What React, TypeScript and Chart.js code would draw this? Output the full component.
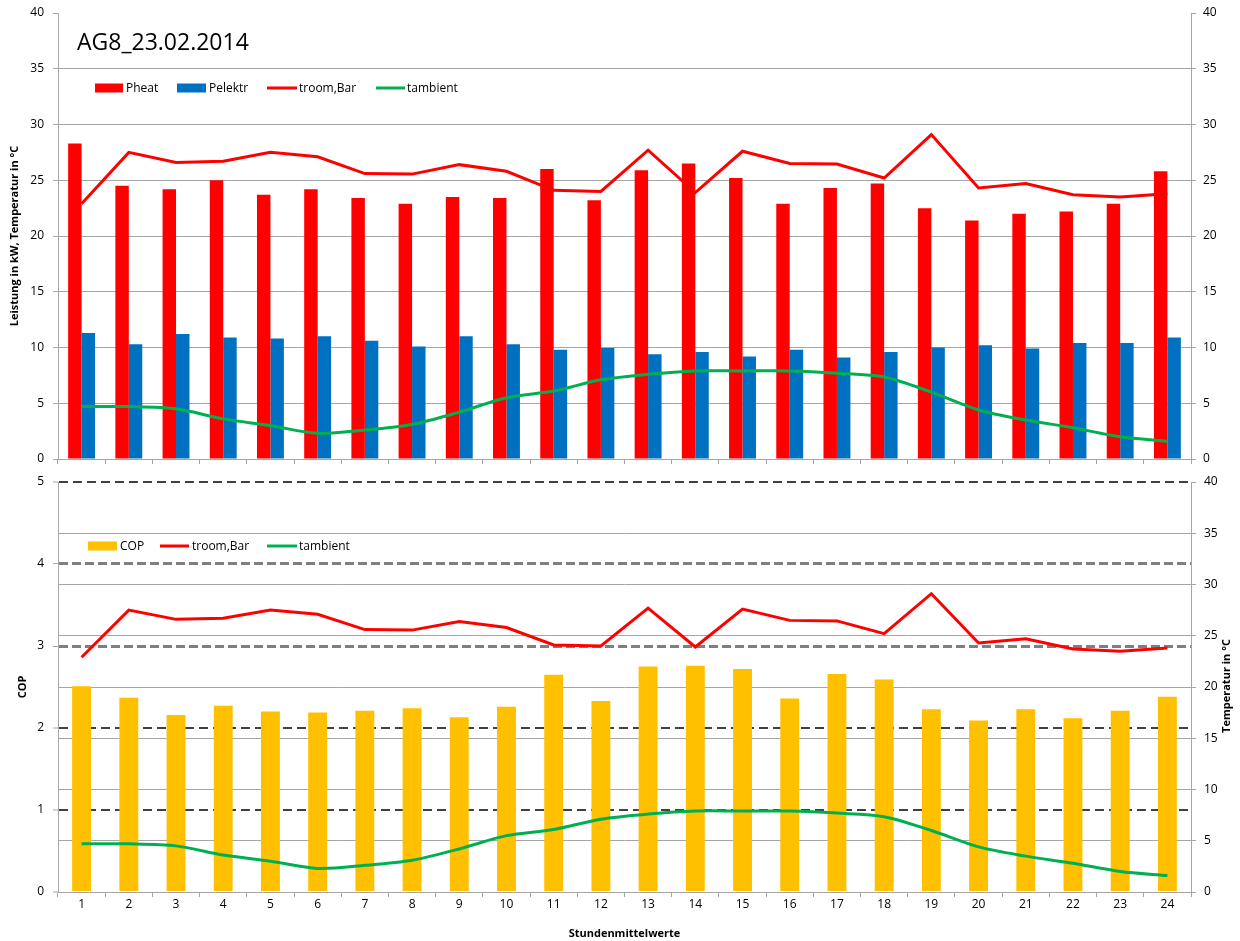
import React, { useEffect, useRef } from "react";
import { Chart, registerables } from "chart.js";

Chart.register(...registerables);

// ---------- data ----------
const hours = ["1","2","3","4","5","6","7","8","9","10","11","12","13","14","15","16","17","18","19","20","21","22","23","24"];
const pHeat = [28.3,24.5,24.2,25.0,23.7,24.2,23.4,22.9,23.5,23.4,26.0,23.2,25.9,26.5,25.2,22.9,24.3,24.7,22.5,21.4,22.0,22.2,22.9,25.8];
const pElektr = [11.3,10.3,11.2,10.9,10.8,11.0,10.6,10.1,11.0,10.3,9.8,9.95,9.4,9.6,9.2,9.8,9.1,9.6,10.0,10.2,9.9,10.4,10.4,10.9];
const tRoom = [22.9,27.5,26.6,26.7,27.5,27.1,25.6,25.55,26.4,25.8,24.1,24.0,27.7,23.9,27.6,26.5,26.45,25.2,29.1,24.3,24.7,23.7,23.5,23.8];
const tAmbient = [4.7,4.7,4.5,3.6,3.0,2.3,2.6,3.1,4.2,5.5,6.1,7.1,7.6,7.9,7.9,7.9,7.7,7.35,6.0,4.4,3.5,2.8,2.0,1.6];
const cop = [2.51,2.37,2.16,2.27,2.20,2.19,2.21,2.24,2.13,2.26,2.65,2.33,2.75,2.76,2.72,2.36,2.66,2.59,2.23,2.09,2.23,2.12,2.21,2.38];

const chartTitle = "AG8_23.02.2014";
const topLegendLabels = ["Pheat", "Pelektr", "troom,Bar", "tambient"];
const bottomLegendLabels = ["COP", "troom,Bar", "tambient"];

// ---------- styles ----------
const FONT = "'Open Sans', 'DejaVu Sans', sans-serif";
const GRID = "#A6A6A6";
const RED = "#FF0000";
const BLUE = "#0070C0";
const GREEN = "#00B050";
const GOLD = "#FFC000";

Chart.defaults.font.family = FONT;
Chart.defaults.color = "#000";

type LegendItem = { label: string; color: string; kind: "box" | "line"; x: number; w: number; tx: number };

function overlayPlugin(opts: {
  legend: LegendItem[];
  legendY: number;
  title?: { text: string; x: number; y: number; size: number };
  rightTitle?: { text: string; x: number; y: number };
}) {
  return {
    id: "overlay",
    afterDraw(chart: any) {
      const ctx = chart.ctx as CanvasRenderingContext2D;
      ctx.save();
      if (opts.title) {
        ctx.font = `${opts.title.size}px ${FONT}`;
        ctx.fillStyle = "#000";
        ctx.textAlign = "left";
        ctx.textBaseline = "alphabetic";
        ctx.fillText(opts.title.text, opts.title.x, opts.title.y);
      }
      ctx.font = `12px ${FONT}`;
      ctx.textAlign = "left";
      ctx.textBaseline = "middle";
      for (const it of opts.legend) {
        if (it.kind === "box") {
          ctx.fillStyle = it.color;
          ctx.fillRect(it.x, opts.legendY - 4.5, it.w, 9);
        } else {
          ctx.strokeStyle = it.color;
          ctx.lineWidth = 3;
          ctx.beginPath();
          ctx.moveTo(it.x, opts.legendY);
          ctx.lineTo(it.x + it.w, opts.legendY);
          ctx.stroke();
        }
        ctx.fillStyle = "#000";
        ctx.fillText(it.label, it.tx, opts.legendY + 0.5);
      }
      if (opts.rightTitle) {
        ctx.font = `bold 11px ${FONT}`;
        ctx.fillStyle = "#000";
        ctx.textAlign = "center";
        ctx.textBaseline = "middle";
        ctx.translate(opts.rightTitle.x, opts.rightTitle.y);
        ctx.rotate(-Math.PI / 2);
        ctx.fillText(opts.rightTitle.text, 0, 0);
      }
      ctx.restore();
    },
  };
}

const fitY = (w: number) => (s: any) => {
  s.width = w;
  s.paddingTop = 0;
  s.paddingBottom = 0;
};

export default function App() {
  const topRef = useRef<HTMLCanvasElement>(null);
  const botRef = useRef<HTMLCanvasElement>(null);

  useEffect(() => {
    document.body.style.margin = "0";
    const tickFont = { size: 12, family: FONT };
    const titleFont = { size: 11, weight: "bold" as const, family: FONT };

    const top = new Chart(topRef.current!, {
      type: "bar",
      data: {
        labels: hours,
        datasets: [
          { type: "line", label: topLegendLabels[2], data: tRoom, borderColor: RED, backgroundColor: RED, borderWidth: 3, pointRadius: 0, tension: 0, yAxisID: "y", order: 0 } as any,
          { type: "line", label: topLegendLabels[3], data: tAmbient, borderColor: GREEN, backgroundColor: GREEN, borderWidth: 3, pointRadius: 0, tension: 0.3, yAxisID: "y", order: 0 } as any,
          { type: "bar", label: topLegendLabels[0], data: pHeat, backgroundColor: RED, borderWidth: 0, categoryPercentage: 0.57, barPercentage: 1, yAxisID: "y", order: 1 },
          { type: "bar", label: topLegendLabels[1], data: pElektr, backgroundColor: BLUE, borderWidth: 0, categoryPercentage: 0.57, barPercentage: 1, yAxisID: "y", order: 1 },
        ],
      },
      options: {
        responsive: false,
        maintainAspectRatio: false,
        animation: false,
        layout: { padding: { top: 13, left: 0, right: 0, bottom: 0 } },
        plugins: { legend: { display: false }, tooltip: { enabled: false } },
        scales: {
          x: {
            type: "category",
            offset: true,
            grid: { offset: true, drawOnChartArea: false, drawTicks: true, tickLength: 5, color: GRID },
            border: { color: GRID },
            ticks: { display: false },
            afterFit: (s: any) => { s.height = 11; },
          },
          y: {
            position: "left",
            min: 0,
            max: 40,
            ticks: { stepSize: 5, padding: 9, font: tickFont, color: "#000" },
            grid: {
              color: (c: any) => (c.tick && (c.tick.value === 40 || c.tick.value === 0) ? "rgba(0,0,0,0)" : GRID),
              tickColor: GRID,
              tickLength: 5,
            },
            border: { color: GRID },
            title: { display: true, text: "Leistung in kW, Temperatur in °C", font: titleFont, color: "#000", padding: { top: 8, bottom: 0 } },
            afterFit: fitY(58),
          },
          y2: {
            position: "right",
            min: 0,
            max: 40,
            ticks: { stepSize: 5, padding: 7, font: tickFont, color: "#000" },
            grid: { drawOnChartArea: false, tickLength: 5, color: GRID },
            border: { color: GRID },
            afterFit: fitY(49),
          },
        },
      },
      plugins: [
        overlayPlugin({
          title: { text: chartTitle, x: 77, y: 50, size: 23 },
          legendY: 88,
          legend: [
            { label: topLegendLabels[0], color: RED, kind: "box", x: 95, w: 28, tx: 126 },
            { label: topLegendLabels[1], color: BLUE, kind: "box", x: 177, w: 29, tx: 209 },
            { label: topLegendLabels[2], color: RED, kind: "line", x: 267, w: 30, tx: 299 },
            { label: topLegendLabels[3], color: GREEN, kind: "line", x: 376, w: 29, tx: 407 },
          ],
        }),
      ],
    } as any);

    const copDash = (v: number) => (v === 4 || v === 3 ? [9, 4] : [9, 5]);
    const copColor = (v: number) => (v === 0 ? "rgba(0,0,0,0)" : v === 4 || v === 3 ? "#7F7F7F" : "#404040");
    const copWidth = (v: number) => (v === 4 || v === 3 ? 3 : 2);

    const bottom = new Chart(botRef.current!, {
      type: "bar",
      data: {
        labels: hours,
        datasets: [
          { type: "line", label: bottomLegendLabels[1], data: tRoom, borderColor: RED, backgroundColor: RED, borderWidth: 3, pointRadius: 0, tension: 0, yAxisID: "yt", order: 0 } as any,
          { type: "line", label: bottomLegendLabels[2], data: tAmbient, borderColor: GREEN, backgroundColor: GREEN, borderWidth: 3, pointRadius: 0, tension: 0.3, yAxisID: "yt", order: 0 } as any,
          { type: "bar", label: bottomLegendLabels[0], data: cop, backgroundColor: GOLD, borderWidth: 0, categoryPercentage: 0.4, barPercentage: 1, yAxisID: "yc", order: 1 },
        ],
      },
      options: {
        responsive: false,
        maintainAspectRatio: false,
        animation: false,
        layout: { padding: { top: 12, left: 0, right: 0, bottom: 0 } },
        plugins: { legend: { display: false }, tooltip: { enabled: false } },
        scales: {
          x: {
            type: "category",
            offset: true,
            grid: { offset: true, drawOnChartArea: false, drawTicks: true, tickLength: 5, color: GRID },
            border: { color: GRID },
            ticks: { padding: 0, font: tickFont, color: "#000", maxRotation: 0, autoSkip: false },
            title: { display: true, text: "Stundenmittelwerte", font: titleFont, color: "#000", padding: { top: 0, bottom: 1 } },
            afterFit: (s: any) => { s.height = 49; },
          },
          yc: {
            position: "left",
            min: 0,
            max: 5,
            ticks: { stepSize: 1, padding: 9, font: tickFont, color: "#000" },
            grid: {
              color: (c: any) => (c.tick ? copColor(c.tick.value) : GRID),
              lineWidth: (c: any) => (c.tick ? copWidth(c.tick.value) : 1),
              tickColor: GRID,
              tickWidth: 1,
              tickLength: 5,
              tickBorderDash: [],
            },
            border: { color: GRID, dash: (c: any) => (c.tick ? copDash(c.tick.value) : []) },
            title: { display: true, text: "COP", font: titleFont, color: "#000", padding: { top: 16, bottom: 0 } },
            afterFit: fitY(58),
          },
          yt: {
            position: "right",
            min: 0,
            max: 40,
            ticks: { stepSize: 5, padding: 8, font: tickFont, color: "#000" },
            grid: {
              color: (c: any) => (c.tick && (c.tick.value === 40 || c.tick.value === 0) ? "rgba(0,0,0,0)" : GRID),
              tickColor: GRID,
              tickLength: 5,
            },
            border: { color: GRID },
            afterFit: fitY(49),
          },
        },
      },
      plugins: [
        overlayPlugin({
          legendY: 76,
          legend: [
            { label: bottomLegendLabels[0], color: GOLD, kind: "box", x: 88, w: 29, tx: 120 },
            { label: bottomLegendLabels[1], color: RED, kind: "line", x: 160, w: 29, tx: 192 },
            { label: bottomLegendLabels[2], color: GREEN, kind: "line", x: 267, w: 30, tx: 299 },
          ],
          rightTitle: { text: "Temperatur in °C", x: 1227, y: 216 },
        }),
      ],
    } as any);

    return () => {
      top.destroy();
      bottom.destroy();
    };
  }, []);

  return (
    <div style={{ position: "absolute", left: 0, top: 0, width: 1240, height: 941, background: "#fff" }}>
      <canvas ref={topRef} width={1240} height={470} style={{ position: "absolute", left: 0, top: 0, display: "block" }} />
      <canvas ref={botRef} width={1240} height={471} style={{ position: "absolute", left: 0, top: 470, display: "block" }} />
    </div>
  );
}
